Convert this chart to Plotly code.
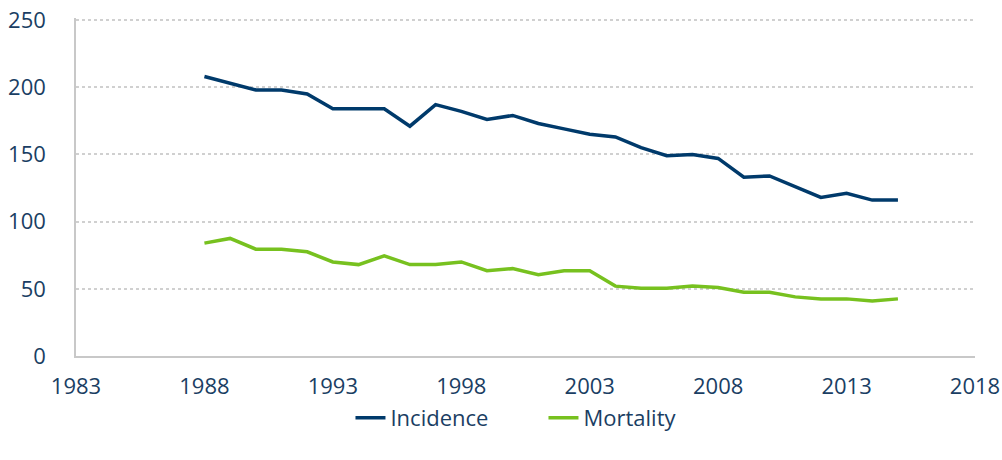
import plotly.graph_objects as go

years = list(range(1988, 2016))
incidence = [208, 203, 198, 198, 195, 184, 184, 184, 171, 187, 182, 176, 179, 173,
             169, 165, 163, 155, 149, 150, 147, 133, 134, 126, 118, 121, 116, 116]
mortality = [84, 87.5, 79.5, 79.5, 77.5, 70, 68, 74.5, 68, 68, 70, 63.5, 65, 60.5,
             63.5, 63.5, 52, 50.5, 50.5, 52, 51, 47.5, 47.5, 44, 42.5, 42.5, 41, 42.5]

navy = "#003a6b"
green = "#77c11f"
text_col = "#1a3e63"
font_name = "Open Sans"

fig = go.Figure()
fig.add_trace(go.Scatter(x=years, y=incidence, name="Incidence", mode="lines",
                         line=dict(color=navy, width=3.5)))
fig.add_trace(go.Scatter(x=years, y=mortality, name="Mortality", mode="lines",
                         line=dict(color=green, width=3.5)))

fig.update_layout(
    width=1002, height=460,
    margin=dict(l=76, r=27, t=18, b=104, autoexpand=False),
    paper_bgcolor="white", plot_bgcolor="white",
    font=dict(family=font_name, size=22, color=text_col),
    legend=dict(orientation="h", x=0.52, xanchor="center", y=-0.183, yanchor="middle",
                font=dict(size=22, color=text_col), entrywidth=148, tracegroupgap=0),
    showlegend=True,
)
fig.update_xaxes(range=[1983, 2018], tickmode="linear", tick0=1983, dtick=5,
                 showgrid=False, showline=True, linecolor="#c8c8c8", linewidth=1.5,
                 zeroline=False, ticks="", ticklabelstandoff=10, automargin=False,
                 ticklabeloverflow="allow")
fig.update_yaxes(range=[0, 251.5], tickmode="linear", tick0=0, dtick=50,
                 showgrid=True, gridcolor="#d0d0d0", griddash="dot", gridwidth=1.5,
                 showline=True, linecolor="#c8c8c8", linewidth=1.5,
                 zeroline=False, ticks="", ticklabelstandoff=24, automargin=False,
                 ticklabeloverflow="allow")

# drop the page's default body margin so the figure sits at the window corner
fig.write_html("out.html", config={"displayModeBar": False},
               post_script="document.body.style.margin = '0px';")
